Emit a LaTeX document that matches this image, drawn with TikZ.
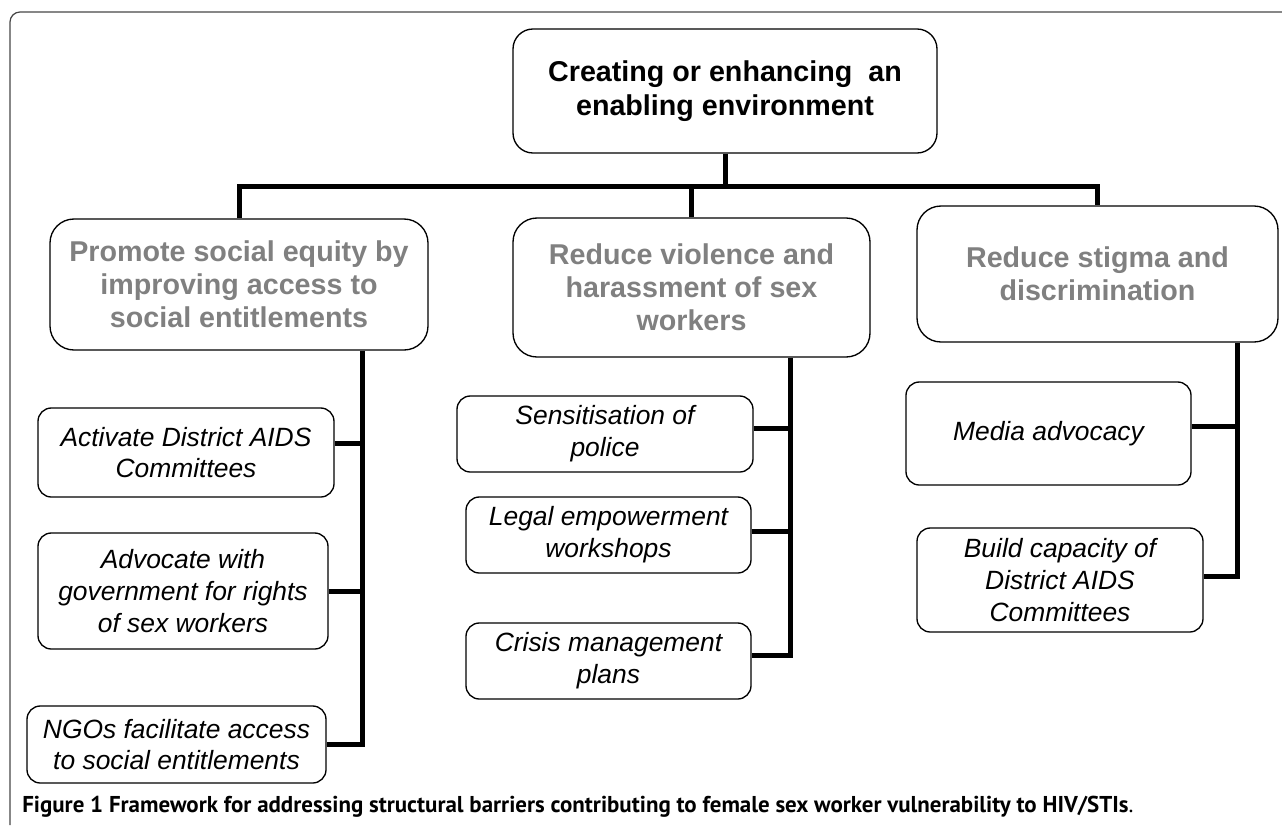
\documentclass[tikz,border=0pt]{standalone}
\usepackage{fontspec}
\setmainfont{Liberation Sans}
\newfontfamily\captionfont{PT Sans}
\usetikzlibrary{positioning, calc}
\definecolor{headgray}{RGB}{128,128,128}
\definecolor{framegray}{RGB}{70,70,70}
\tikzset{
    goalbox/.style={draw, line width=1pt, rounded corners=15pt, align=center, font=\bfseries\fontsize{21.5}{26}\selectfont},
    areabox/.style={draw, line width=1pt, rounded corners=18pt, align=center, text=headgray, font=\bfseries\fontsize{21.5}{24.75}\selectfont},
    actbox/.style={draw, line width=1pt, rounded corners=10pt, align=center, font=\itshape\fontsize{19.8}{23.8}\selectfont},
    conn/.style={line width=3.75pt},
}

\begin{document}
\begin{tikzpicture}[x=0.75pt, y=-0.75pt]
        \useasboundingbox (0,0) rectangle (1282,825);
        \draw[framegray, line width=0.9pt, rounded corners=7.5pt] (10,825) -- (10,12) -- (1282,12);

        \node[goalbox, minimum width=318pt, minimum height=93pt] (goal) at (725,91) {Creating or enhancing\ \ an\\enabling environment};

        \node[areabox, minimum width=283.5pt, minimum height=98.25pt] (equity) at (239,284.5) {Promote social equity by\\improving access to\\social entitlements};
        \node[areabox, minimum width=267.75pt, minimum height=104.25pt] (violence) at (691.5,287.5) {Reduce violence and\\harassment of sex\\workers};
        \node[areabox, minimum width=270.75pt, minimum height=102pt] (stigma) at (1097.5,274) {Reduce stigma and\\discrimination};

        \node[actbox, minimum width=222pt, minimum height=66.75pt] (district) at (186,452.5) {Activate District AIDS\\Committees};
        \node[actbox, minimum width=217.5pt, minimum height=87pt] (advocate) at (183,591) {Advocate with\\government for rights\\of sex workers};
        \node[actbox, minimum width=224.25pt, minimum height=57.75pt] (ngo) at (176.5,744.5) {NGOs facilitate access\\to social entitlements};

        \node[actbox, minimum width=222pt, minimum height=57pt] (police) at (605,434) {Sensitisation of\\police};
        \node[actbox, minimum width=213.75pt, minimum height=57pt] (legal) at (608.5,535) {Legal empowerment\\workshops};
        \node[actbox, minimum width=213.75pt, minimum height=57pt] (crisis) at (608.5,661) {Crisis management\\plans};

        \node[actbox, minimum width=213.75pt, minimum height=77.25pt] (media) at (1048.5,433.5) {Media advocacy};
        \node[actbox, minimum width=214.5pt, minimum height=78pt] (capacity) at (1060,580) {Build capacity of\\District AIDS\\Committees};

        \coordinate (bus) at (725,186);
        \coordinate (spineA) at (362,0);
        \coordinate (spineB) at (790,0);
        \coordinate (spineC) at (1237,0);

        \draw[conn] (goal.south) -- (bus);
        \draw[conn] (equity.north) |- (bus) -| (stigma.north);
        \draw[conn] (violence.north) -- (violence.north |- bus);

        \draw[conn] (equity.south -| spineA) |- (ngo.east);
        \draw[conn] ([yshift=6.4pt]district.east) -- ([yshift=6.4pt]district.east -| spineA);
        \draw[conn] (advocate.east) -- (advocate.east -| spineA);

        \draw[conn] (violence.south -| spineB) |- ([yshift=4.5pt]crisis.east);
        \draw[conn] ([yshift=4.5pt]police.east) -- ([yshift=4.5pt]police.east -| spineB);
        \draw[conn] ([yshift=3pt]legal.east) -- ([yshift=3pt]legal.east -| spineB);

        \draw[conn] (stigma.south -| spineC) |- ([yshift=3pt]capacity.east);
        \draw[conn] ([yshift=5.6pt]media.east) -- ([yshift=5.6pt]media.east -| spineC);

        \node[anchor=base west, inner sep=0pt, font=\captionfont\fontsize{17.2}{20}\selectfont] (caption) at (22,812) {\textbf{Figure 1 Framework for addressing structural barriers contributing to female sex worker vulnerability to HIV/STIs}.};
\end{tikzpicture}
\end{document}
